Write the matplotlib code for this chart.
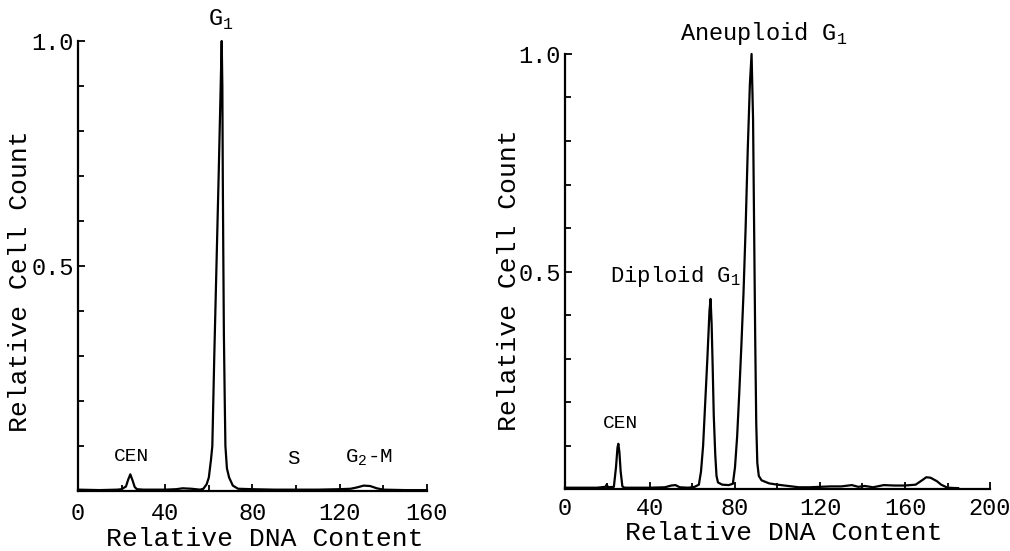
import matplotlib
matplotlib.use("Agg")
import matplotlib.pyplot as plt
from matplotlib.ticker import MultipleLocator

plt.rcParams['font.family'] = ['Liberation Mono', 'DejaVu Sans Mono']
plt.rcParams['mathtext.fontset'] = 'custom'
plt.rcParams['mathtext.rm'] = 'Liberation Mono'

# --- traced histogram, left panel (diploid tumour) ---
dna_left = [0, 10, 18, 20, 22, 23, 24, 25, 26, 27, 30, 40, 45, 48, 52, 56,
            57.5, 59, 60, 61, 61.6, 62.5, 63.5, 64.5, 65.3, 65.9, 66.2, 66.4,
            66.6, 66.9, 67.3, 67.6, 68.3, 69.3, 71, 73.4, 80, 90, 100, 110,
            120, 125, 128, 131, 134, 137, 140, 150, 160]
count_left = [0.003, 0.002, 0.003, 0.004, 0.01, 0.025, 0.037, 0.024, 0.009,
              0.004, 0.003, 0.003, 0.004, 0.006, 0.005, 0.003,
              0.005, 0.015, 0.03, 0.07, 0.1, 0.3, 0.5, 0.7, 0.87, 1.0, 0.9,
              0.7, 0.55, 0.35, 0.2, 0.1, 0.05, 0.03, 0.012, 0.005, 0.004,
              0.003, 0.003, 0.003, 0.004, 0.005, 0.008, 0.012, 0.011, 0.006,
              0.003, 0.002, 0.002]

# --- traced histogram, right panel (aneuploid tumour) ---
dna_right = [0, 15, 19, 19.6, 20.3, 23, 24, 24.7, 25.1, 25.6, 26.2, 27, 28,
             40, 47, 50, 52, 54, 58, 61, 63, 64, 65, 66, 67, 68, 68.5, 69,
             69.5, 70, 70.7, 71.3, 72, 74, 77, 79, 80, 81, 82, 83, 84, 85, 86,
             87, 87.8, 88.5, 89, 89.5, 90, 90.5, 91.2, 92.5, 96, 100, 105,
             110, 115, 120, 125, 130, 135, 138, 141, 145, 150, 155, 160, 165,
             168, 170, 172, 175, 177, 180, 185]
count_right = [0.003, 0.003, 0.005, 0.01, 0.004, 0.005, 0.05, 0.095, 0.104,
               0.085, 0.04, 0.006, 0.003,
               0.003, 0.004, 0.008, 0.009, 0.004, 0.003, 0.005, 0.01, 0.04,
               0.1, 0.2, 0.3, 0.41, 0.437, 0.38, 0.28, 0.17, 0.08, 0.03,
               0.015, 0.01, 0.009, 0.012, 0.05, 0.12, 0.22, 0.33, 0.45, 0.6,
               0.78, 0.93, 1.0, 0.85, 0.6, 0.35, 0.15, 0.06, 0.03, 0.02,
               0.013, 0.01, 0.007, 0.004, 0.004, 0.005, 0.006, 0.006, 0.009,
               0.005, 0.007, 0.004, 0.009, 0.008, 0.008, 0.01, 0.02, 0.027,
               0.026, 0.018, 0.01, 0.003, 0.002]

fig = plt.figure(figsize=(10.10, 5.51), dpi=100)
ax1 = fig.add_axes([0.0772, 0.1089, 0.3455, 0.8167])
ax2 = fig.add_axes([0.5594, 0.1125, 0.4208, 0.7895])


def style_axis(ax, xmax, xpad):
    ax.set_xlim(0, xmax)
    ax.set_ylim(0, 1.0)
    for s in ('top', 'right'):
        ax.spines[s].set_visible(False)
    for s in ('left', 'bottom'):
        ax.spines[s].set_linewidth(1.6)
    ax.xaxis.set_major_locator(MultipleLocator(40))
    ax.xaxis.set_minor_locator(MultipleLocator(20))
    ax.yaxis.set_major_locator(MultipleLocator(0.5))
    ax.yaxis.set_minor_locator(MultipleLocator(0.1))
    ax.tick_params(axis='both', which='both', direction='in', width=1.3)
    ax.tick_params(axis='both', which='major', length=5, labelsize=17)
    ax.tick_params(axis='both', which='minor', length=4.5)
    ax.tick_params(axis='x', pad=xpad)
    ax.tick_params(axis='y', pad=3)
    ax.set_xticks(range(0, xmax + 1, 40))
    ax.set_yticks([0.5, 1.0])
    ax.set_yticklabels(['0.5', '1.0'])
    ax.set_xlabel('Relative DNA Content', fontsize=19)
    ax.set_ylabel('Relative Cell Count', fontsize=19)


ax1.plot(dna_left, count_left, color='black', lw=1.6, clip_on=False)
style_axis(ax1, 160, 8)
ax1.xaxis.set_label_coords(0.536, -0.08)
ax1.yaxis.set_label_coords(-0.1325, 0.467)

ax1.text(65.7, 1.02, 'G$_\\mathregular{1}$', fontsize=17, ha='center', va='bottom')
ax1.text(24.4, 0.058, 'CEN', fontsize=14, ha='center', va='bottom')
ax1.text(98.7, 0.05, 'S', fontsize=15, ha='center', va='bottom')
ax1.text(133.2, 0.05, 'G$_\\mathregular{2}$-M', fontsize=15, ha='center', va='bottom')

ax2.plot(dna_right, count_right, color='black', lw=1.6, clip_on=False)
style_axis(ax2, 200, 6)
ax2.xaxis.set_label_coords(0.515, -0.074)
ax2.yaxis.set_label_coords(-0.104, 0.48)

ax2.text(93.3, 1.015, 'Aneuploid G$_\\mathregular{1}$', fontsize=17, ha='center', va='bottom')
ax2.text(51.8, 0.46, 'Diploid G$_\\mathregular{1}$', fontsize=16, ha='center', va='bottom')
ax2.text(25.9, 0.13, 'CEN', fontsize=14, ha='center', va='bottom')

fig.savefig('out.png', dpi=100)
